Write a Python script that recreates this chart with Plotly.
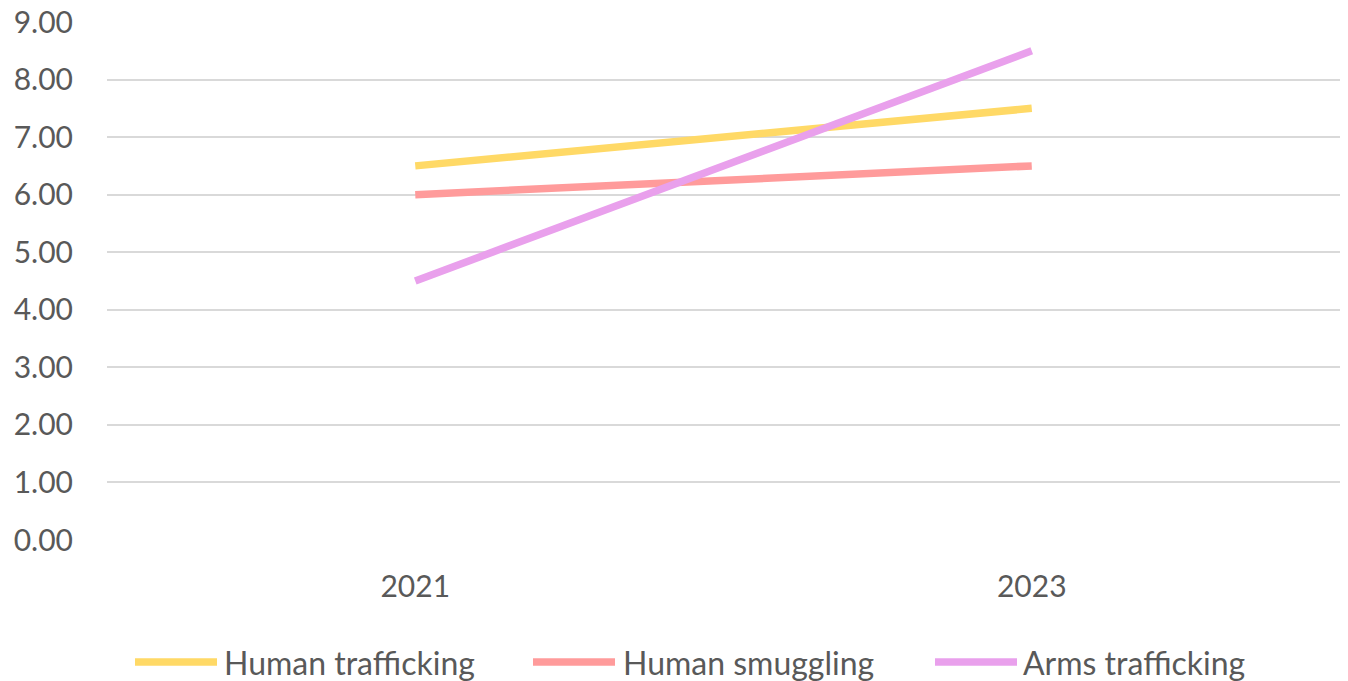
import plotly.graph_objects as go

years = ["2021", "2023"]
human_trafficking = [6.5, 7.5]
human_smuggling = [6.0, 6.5]
arms_trafficking = [4.5, 8.5]
series_names = ["Human trafficking", "Human smuggling", "Arms trafficking"]
colors = ["#FFD966", "#FF9B9B", "#E9A0EC"]
y_ticks = [0, 1, 2, 3, 4, 5, 6, 7, 8, 9]

W, H = 1348, 681
L, R, T, B = 107, 8, 22, 141
TXT = "#595959"
FONT = "Lato"
FS = 30
FS_LEG = 32

fig = go.Figure()
for name, vals, c in zip(series_names, [human_trafficking, human_smuggling, arms_trafficking], colors):
    fig.add_trace(go.Scatter(x=years, y=vals, mode="lines", name=name,
                             line=dict(color=c, width=7.5), showlegend=False))

# custom legend (pixel layout converted to paper coords)
pw, ph = W - L - R, H - T - B
def px(x):
    return (x - L) / pw
def py(y):
    return (H - B - y) / ph

legend_items = [(135, 217, 222), (533, 615, 621), (935, 1017, 1021)]
shapes = []
annotations = []
for (x0, x1, xt), name, c in zip(legend_items, series_names, colors):
    shapes.append(dict(type="line", xref="paper", yref="paper", x0=px(x0), x1=px(x1),
                       y0=py(662), y1=py(662), line=dict(color=c, width=7.5)))
    annotations.append(dict(xref="paper", yref="paper", x=px(xt), y=py(662), text=name,
                            showarrow=False, xanchor="left", yanchor="middle",
                            font=dict(family=FONT, size=FS_LEG, color=TXT)))

fig.update_layout(
    width=W, height=H,
    margin=dict(l=L, r=R, t=T, b=B, pad=0, autoexpand=False),
    paper_bgcolor="white", plot_bgcolor="white",
    font=dict(family=FONT, size=FS, color=TXT),
    shapes=shapes, annotations=annotations,
    xaxis=dict(type="category", range=[-0.5, 1.5], showgrid=False, zeroline=False,
               showline=False, ticks="", ticklabelstandoff=26, automargin=False,
               tickfont=dict(family=FONT, size=FS, color=TXT)),
    yaxis=dict(range=[0, 9], tickvals=y_ticks, ticktext=[f"{v:.2f}" for v in y_ticks],
               showgrid=True, gridcolor="#D9D9D9", gridwidth=2, zeroline=False,
               showline=False, ticks="", ticklabelstandoff=33, automargin=False,
               tickfont=dict(family=FONT, size=FS, color=TXT)),
)

fig.write_html("out.html")
